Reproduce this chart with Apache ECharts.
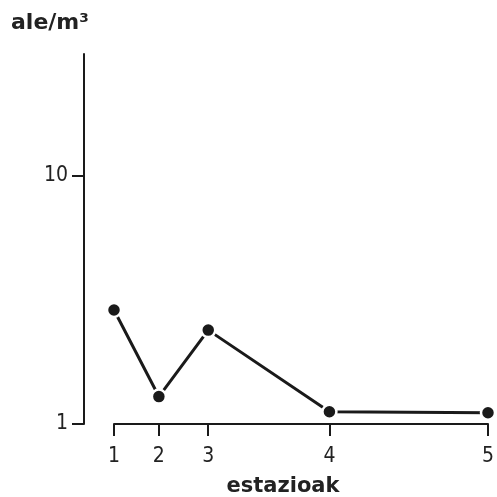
<!DOCTYPE html>
<html>
<head>
<meta charset="utf-8">
<script src="https://cdn.jsdelivr.net/npm/echarts@6/dist/echarts.min.js"></script>
<style>html,body{margin:0;padding:0;background:#fff}#c{width:497px;height:497px}</style>
</head>
<body>
<div id="c"></div>
<script>
// Data
const stations = ['1', '2', '3', '4', '5'];
const stationPos = [0, 3, 6.3, 14.4, 25];        // station position along the x axis
const density = [2.88, 1.29, 2.39, 1.12, 1.11];  // ale/m3
const yTicks = [1, 10];

const chart = echarts.init(document.getElementById('c'));
const FONT = '"DejaVu Sans Condensed", "DejaVu Sans", sans-serif';
const WIDE = '"DejaVu Sans", sans-serif';
const INK = '#1a1a1a';

chart.setOption({
  animation: false,
  backgroundColor: '#fff',
  title: [
    { text: 'ale/m³', left: 6, top: 7,
      textStyle: { fontFamily: WIDE, fontSize: 22, fontWeight: 'bold', color: '#222' } },
    { text: 'estazioak', left: 278, top: 471, textAlign: 'center',
      textStyle: { fontFamily: WIDE, fontSize: 21, fontWeight: 'bold', color: '#222' } }
  ],
  grid: { left: 114, right: 7, top: 54, bottom: 73 },
  xAxis: {
    type: 'value',
    min: stationPos[0],
    max: stationPos[stationPos.length - 1],
    splitLine: { show: false },
    axisLine: { show: true, onZero: false, lineStyle: { color: INK, width: 2 } },
    axisTick: { show: true, length: 12, customValues: stationPos, lineStyle: { color: INK, width: 2 } },
    axisLabel: {
      customValues: stationPos,
      margin: 22,
      fontFamily: FONT, fontSize: 21, color: '#222',
      formatter: v => { const i = stationPos.indexOf(v); return i >= 0 ? stations[i] : ''; }
    }
  },
  yAxis: {
    type: 'log',
    logBase: 10,
    min: 1,
    max: 31,
    offset: 30,
    splitLine: { show: false },
    axisLine: { show: true, onZero: false, lineStyle: { color: INK, width: 2 } },
    axisTick: { show: true, length: 12, customValues: yTicks, lineStyle: { color: INK, width: 2 } },
    axisLabel: {
      customValues: yTicks,
      margin: 16,
      fontFamily: FONT, fontSize: 21, color: '#222'
    }
  },
  series: [{
    type: 'line',
    data: stationPos.map((x, i) => [x, density[i]]),
    clip: false,
    symbol: 'circle',
    symbolSize: 14,
    lineStyle: { color: INK, width: 3 },
    itemStyle: { color: INK, borderColor: '#fff', borderWidth: 2.5 }
  }]
});
</script>
</body>
</html>
